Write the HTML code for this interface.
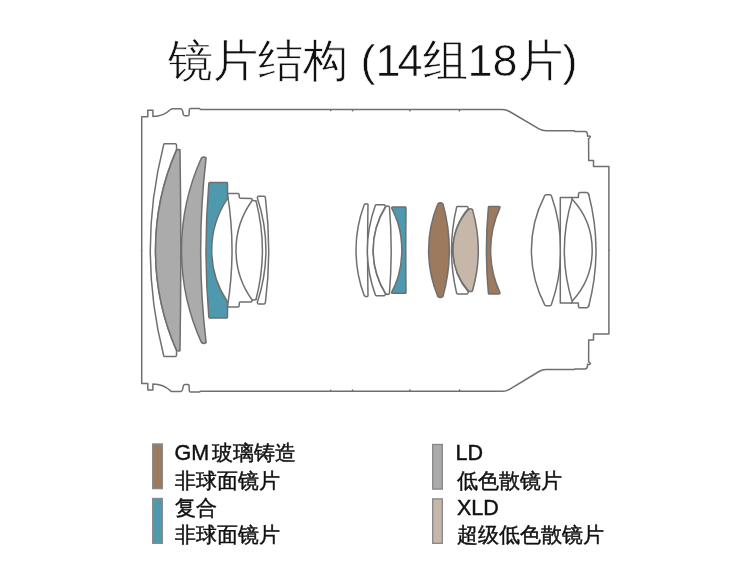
<!DOCTYPE html>
<html><head><meta charset="utf-8">
<style>
html,body{margin:0;padding:0;background:#fff;}
body{width:750px;height:569px;position:relative;overflow:hidden;font-family:"Liberation Sans",sans-serif;color:#111;}
.t{position:absolute;white-space:nowrap;}
#title{left:168px;top:30.5px;font-size:45px;line-height:60px;color:#111;-webkit-text-stroke:0.6px #fff;will-change:transform;}
.lg{position:absolute;font-size:20.5px;line-height:27px;white-space:nowrap;color:#111;-webkit-text-stroke:0.45px #111;will-change:transform;}
.lat{font-size:21.5px;}
svg{position:absolute;left:0;top:0;}
</style></head><body>
<div id="title" class="t">镜片结构 (<span style="letter-spacing:-3px">1</span>4组18片)</div>
<svg width="750" height="569" viewBox="0 0 750 569">
<g stroke="#6f6f6f" stroke-width="1.5" stroke-linejoin="round" stroke-linecap="round">
<path d="M141.7,250.20 L141.7,116.80 L147.8,116.80 L147.8,110.30 L152.9,110.30 L152.9,116.50 C160,116.50 166,114.00 170.5,109.50 Q171.5,108.80 173,108.80 L180.5,108.80 Q182,109.00 182.6,111.00 L183.3,114.50 Q183.8,115.80 185,115.80 L187.8,115.80 Q189,115.80 189.1,114.50 L189.3,109.50 Q189.5,108.50 190.5,108.50 L199.5,108.50 L200.5,109.50 L330.5,109.50 L330.7,110.50 L331,109.50 L352.3,109.50 L352.5,110.70 L352.8,109.50 L409.6,109.50 L409.9,110.70 L410.2,109.50 L459.2,109.50 L459.5,110.70 L459.8,109.50 L502.5,109.50 Q506.1,109.50 509.5,111.50 L539,128.90 Q542.2,130.80 546,130.80 L574.3,130.80 L574.6,131.40 L585,131.40 Q587.3,131.60 587.4,134.00 L587.6,136.30 Q589.5,135.60 590.4,136.60 Q590,138.00 588.6,138.60 L588.7,160.40 L593.5,160.40 L593.5,166.40 L608.9,166.40 L608.9,250.20" fill="none" />
<path d="M141.7,250.20 L141.7,383.60 L147.8,383.60 L147.8,390.10 L152.9,390.10 L152.9,383.90 C160,383.90 166,386.40 170.5,390.90 Q171.5,391.60 173,391.60 L180.5,391.60 Q182,391.40 182.6,389.40 L183.3,385.90 Q183.8,384.60 185,384.60 L187.8,384.60 Q189,384.60 189.1,385.90 L189.3,390.90 Q189.5,391.90 190.5,391.90 L199.5,391.90 L200.5,391.30 L330.5,391.30 L330.7,390.30 L331,391.30 L352.3,391.30 L352.5,390.10 L352.8,391.30 L409.6,391.30 L409.9,390.10 L410.2,391.30 L459.2,391.30 L459.5,390.10 L459.8,391.30 L502.5,391.30 Q506.1,391.30 509.5,389.30 L539,371.50 Q542.2,369.60 546,369.60 L574.3,369.60 L574.6,369.00 L585,369.00 Q587.3,368.80 587.4,366.40 L587.6,364.10 Q589.5,364.80 590.4,363.80 Q590,362.40 588.6,361.80 L588.7,340.00 L593.5,340.00 L593.5,334.00 L608.9,334.00 L608.9,250.20" fill="none" />
<path d="M164.5,143.8 L175.5,143.8 Q176.4,144 176.5,145.1 L176.6,149.6 A250.37,250.37 0 0 0 176.60,350.80 L176.5,355.29999999999995 Q176.4,356.4 175.5,356.59999999999997 L164.5,356.59999999999997 Q163.6,356.5 163.6,355.29999999999995 A428.15,428.15 0 0 1 163.60,145.10 Q163.6,143.9 164.5,143.8 Z" fill="#fff" />
<path d="M176.4,150.4 Q178.2,148.9 179.9,149.7 L180.0,150.6 A6200.50,6200.50 0 0 1 180.00,349.80 L179.9,350.7 Q178.2,351.5 176.4,350.0 A248.73,248.73 0 0 1 176.40,150.40 Z" fill="#ababab" />
<path d="M201.4,158 Q203.6,156 206.1,157.8 A793.23,793.23 0 0 0 206.10,342.60 Q203.6,344.4 201.4,342.4 A223.54,223.54 0 0 1 201.40,158.00 Z" fill="#ababab" />
<path d="M209.6,182.5 L226.8,182.5 Q227.5,182.6 227.5,183.5 L227.5,198.6 A92.16,92.16 0 0 0 227.50,301.80 L227.5,316.9 Q227.5,317.79999999999995 226.8,317.9 L209.6,317.9 Q208.8,317.7 208.8,316.7 A791.09,791.09 0 0 1 208.80,183.70 Q208.8,182.7 209.6,182.5 Z" fill="#4e99ae" />
<path d="M227.5,194 A353.19,353.19 0 0 1 227.50,306.40" fill="none" />
<path d="M227.5,193.4 L238,193.4 Q239,193.5 239.1,194.5 L239.3,197.4 Q239.5,198.3 240.5,198.3 L251.3,198.4 Q252,198.6 252.3,200.2 L256,200.9" fill="none" />
<path d="M227.5,307.0 L238,307.0 Q239,306.9 239.1,305.9 L239.3,303.0 Q239.5,302.09999999999997 240.5,302.09999999999997 L251.3,302.0 Q252,301.79999999999995 252.3,300.2 L256,299.5" fill="none" />
<path d="M252.3,200.2 A84.84,84.84 0 0 0 252.30,300.20" fill="none" />
<path d="M256,200.9 A196.05,196.05 0 0 1 256.00,299.50" fill="none" />
<path d="M257.3,197.8 Q257.5,196.3 258.5,196.3 L264,196.3 Q265.2,196.4 265.4,197.8 A417.67,417.67 0 0 1 265.40,302.60 Q265.2,304.0 264,304.09999999999997 L258.5,304.09999999999997 Q257.5,304.09999999999997 257.3,302.59999999999997 A167.64,167.64 0 0 0 257.30,197.80 Z" fill="#fff" />
<path d="M364.2,204.8 Q366,202.9 368,204.4 A2622.25,2622.25 0 0 0 368.00,296.00 Q366,297.5 364.2,295.59999999999997 A129.78,129.78 0 0 1 364.20,204.80 Z" fill="#fff" />
<path d="M375.3,205.6 Q375.6,204.7 376.4,204.7 L384.3,204.7 L385.7,206.2 A83.69,83.69 0 0 0 385.70,294.20 L384.3,295.7 L376.4,295.7 Q375.6,295.7 375.3,294.79999999999995 A133.02,133.02 0 0 1 375.30,205.60 Z" fill="#fff" />
<path d="M385.7,206.8 Q387.5,205.2 389.4,206.8 A524.11,524.11 0 0 1 389.40,293.60 Q387.5,295.2 385.7,293.59999999999997 A81.59,81.59 0 0 1 385.70,206.80 Z" fill="#fff" />
<path d="M392.2,207.1 L405.3,207.1 Q406,207.2 406,208 A4452.20,4452.20 0 0 0 406.00,292.40 Q406,293.2 405.3,293.29999999999995 L392.2,293.29999999999995 Q391.5,293.09999999999997 391.6,292.4 C396.5,282.4 401.8,270.4 401.8,250.2 C401.8,230 396.5,218 391.6,208 Q391.5,207.3 392.2,207.1 Z" fill="#4e99ae" />
<path d="M437.8,204 Q440.3,201.8 443,204 A175.23,175.23 0 0 1 443.00,296.40 Q440.3,298.59999999999997 437.8,296.4 A120.60,120.60 0 0 1 437.80,204.00 Z" fill="#9d7a5d" />
<path d="M456.6,207.3 Q456.9,206.4 457.7,206.4 L467.2,206.4 Q467.9,206.5 468.3,208.6 A64.20,64.20 0 0 0 468.30,291.80 Q467.9,293.9 467.2,294.0 L457.7,294.0 Q456.9,294.0 456.6,293.09999999999997 A186.54,186.54 0 0 1 456.60,207.30 Z" fill="#fff" />
<path d="M468.3,209.6 Q470.4,208 472.5,209.6 A147.44,147.44 0 0 1 472.50,290.80 Q470.4,292.4 468.3,290.79999999999995 A61.52,61.52 0 0 1 468.30,209.60 Z" fill="#c6b7a8" />
<path d="M489,206.4 L499.2,206.4 Q500,206.5 500,207.6 A101.23,101.23 0 0 0 500.00,292.80 Q500,293.9 499.2,294.0 L489,294.0 Q488.4,293.9 488.4,293.2 A463.25,463.25 0 0 1 488.40,207.20 Q488.4,206.5 489,206.4 Z" fill="#9d7a5d" />
<path d="M544.6,195.8 Q545,194.7 546,194.7 L550,194.7 Q551.1,194.7 551.4,195.8 A163.76,163.76 0 0 1 551.40,304.60 Q551.1,305.7 550,305.7 L546,305.7 Q545,305.7 544.6,304.59999999999997 A118.70,118.70 0 0 1 544.60,195.80 Z" fill="#fff" />
<path d="M560.3,197.4 L571.4,197.4 L572.3,198.5 A175.24,175.24 0 0 0 572.30,301.90 L571.4,303.0 L560.3,303.0 Z" fill="#fff" />
<path d="M572.5,199.6 A74.83,74.83 0 0 1 572.50,300.80" fill="none" />
<path d="M571.4,197.4 L578.3,197.4 L578.6,193.6 Q578.8,192.6 579.8,192.6 L586.8,192.6 Q588.3,192.8 588.8,194.7" fill="none" />
<path d="M571.4,303.0 L578.3,303.0 L578.6,306.79999999999995 Q578.8,307.79999999999995 579.8,307.79999999999995 L586.8,307.79999999999995 Q588.3,307.59999999999997 588.8,305.7" fill="none" />
<path d="M588.8,194.7 A220.47,220.47 0 0 1 588.80,305.70" fill="none" />
</g>
<g stroke="#8a8a8a" stroke-width="1.4">
<rect x="152.7" y="444" width="9.6" height="44.6" fill="#9d7a5d"/>
<rect x="152.7" y="498.5" width="9.6" height="44.8" fill="#4e99ae"/>
<rect x="432.7" y="444.5" width="9.6" height="44.6" fill="#ababab"/>
<rect x="432.7" y="498.9" width="9.6" height="44.4" fill="#c6b7a8"/>
</g>
</svg>
<div class="lg" style="left:175px;top:439px"><span class="lat" style="margin-left:-0.5px;margin-right:-2.5px">GM</span> 玻璃铸造</div>
<div class="lg" style="left:175px;top:466.5px">非球面镜片</div>
<div class="lg" style="left:175px;top:493.5px">复合</div>
<div class="lg" style="left:175px;top:520.8px">非球面镜片</div>
<div class="lg" style="left:457px;top:439px"><span class="lat" style="margin-left:-1.5px">LD</span></div>
<div class="lg" style="left:457px;top:466.5px">低色散镜片</div>
<div class="lg" style="left:457px;top:493.5px"><span class="lat">XLD</span></div>
<div class="lg" style="left:457px;top:520.8px">超级低色散镜片</div>
</body></html>
